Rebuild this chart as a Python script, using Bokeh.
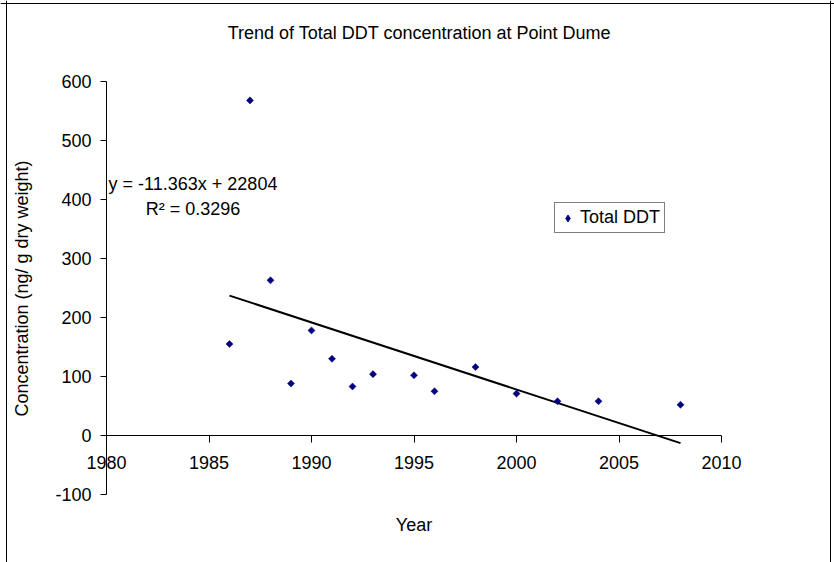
import numpy as np
from bokeh.plotting import figure
from bokeh.models import Label, Legend, LegendItem, FixedTicker, Range1d, Span
from bokeh.embed import file_html
from bokeh.resources import INLINE

# ---- data ----
years = [1986, 1987, 1988, 1989, 1990, 1991, 1992, 1993, 1995, 1996, 1998, 2000, 2002, 2004, 2008]
total_ddt = [155, 568, 263, 88, 178, 130, 83, 104, 102, 75, 116, 71, 58, 58, 52]
x_ticks = [1980, 1985, 1990, 1995, 2000, 2005, 2010]
y_ticks = [-100, 0, 100, 200, 300, 400, 500, 600]
trend_slope = -11.363
trend_intercept = 22804
trend_r2 = 0.3296

trend_x = [min(years), max(years)]
trend_y = [trend_slope * x + trend_intercept for x in trend_x]

# ---- layout (pixels) ----
W, H = 834, 562
AX_L, AX_R, AX_T, AX_B = 106, 721, 81, 494           # axis extents in px
X_MIN, X_MAX = x_ticks[0], x_ticks[-1]
Y_MIN, Y_MAX = y_ticks[0], y_ticks[-1]
PX_X = (AX_R - AX_L) / (X_MAX - X_MIN)
PX_Y = (AX_B - AX_T) / (Y_MAX - Y_MIN)


def dx(px):
    return X_MIN + (px - AX_L) / PX_X


def dy(py):
    return Y_MIN + (AX_B - py) / PX_Y


FONT = "Liberation Sans"
FS = "18px"
NAVY = "#000080"

p = figure(width=W, height=H, title=None,
           x_range=Range1d(dx(0), dx(W)),
           y_range=Range1d(dy(H), dy(0)),
           output_backend="svg", toolbar_location=None,
           min_border_left=0, min_border_right=0,
           min_border_top=0, min_border_bottom=0,
           background_fill_color="white", border_fill_color="white",
           outline_line_color=None)

p.xgrid.visible = False
p.ygrid.visible = False

# chart border (left, top, right; the bottom edge lies outside the picture)
for loc, dim in ((dx(6), "height"), (dx(830), "height"), (dy(3), "width")):
    p.add_layout(Span(location=loc, dimension=dim, line_color="black", line_width=1))

for ax in (p.xaxis, p.yaxis):
    ax.axis_line_color = "black"
    ax.axis_line_width = 1
    ax.major_tick_line_color = "black"
    ax.major_tick_in = 0
    ax.minor_tick_in = 0
    ax.minor_tick_out = 0
    ax.major_label_text_font = FONT
    ax.major_label_text_font_size = FS
    ax.major_label_text_color = "black"

# x axis crossing at y = 0
p.xaxis.fixed_location = 0
p.xaxis.bounds = (X_MIN, X_MAX)
p.xaxis.ticker = FixedTicker(ticks=x_ticks)
p.xaxis.major_tick_out = 7
p.xaxis.major_label_standoff = 13

# y axis at x = 1980
p.yaxis.fixed_location = X_MIN
p.yaxis.bounds = (Y_MIN, Y_MAX)
p.yaxis.ticker = FixedTicker(ticks=y_ticks)
p.yaxis.major_label_overrides = {t: str(t) for t in y_ticks}
p.yaxis.major_tick_out = 6
p.yaxis.major_label_standoff = 9

# trendline
p.line(trend_x, trend_y, line_color="black", line_width=2)

# points
r = p.scatter(years, total_ddt, marker="square", angle=np.pi / 4, size=5,
              fill_color=NAVY, line_color=NAVY, line_width=0.5)

# hidden diamond renderer of the same data, used only for the legend swatch
r_leg = p.scatter(years, total_ddt, marker="diamond", size=10,
                  fill_color=NAVY, line_color=NAVY, line_width=1,
                  visible=False)

legend = Legend(items=[LegendItem(label="Total DDT", renderers=[r_leg])],
                location=(554, H - 233),
                border_line_color="black", border_line_width=1,
                padding=4, spacing=0, margin=0,
                glyph_width=17, glyph_height=20, label_standoff=4,
                label_text_font=FONT, label_text_font_size=FS,
                label_text_color="black", background_fill_color="white",
                background_fill_alpha=1, inactive_fill_alpha=0)
p.add_layout(legend)


def text_label(txt, px, py, angle=0.0):
    return Label(x=dx(px), y=dy(py), text=txt, angle=angle,
                 text_align="center", text_baseline="middle",
                 text_font=FONT, text_font_size=FS, text_color="black")


p.add_layout(text_label("Trend of Total DDT concentration at Point Dume", 419, 32))
p.add_layout(text_label("Year", 413.5, 524))
p.add_layout(text_label("Concentration (ng/ g dry weight)", 21, 288, np.pi / 2))
p.add_layout(text_label(f"y = {trend_slope}x + {trend_intercept}", 192.5, 183))
p.add_layout(text_label(f"R\u00b2 = {trend_r2}", 192.5, 208))

open("out.html", "w").write(file_html(p, INLINE))
